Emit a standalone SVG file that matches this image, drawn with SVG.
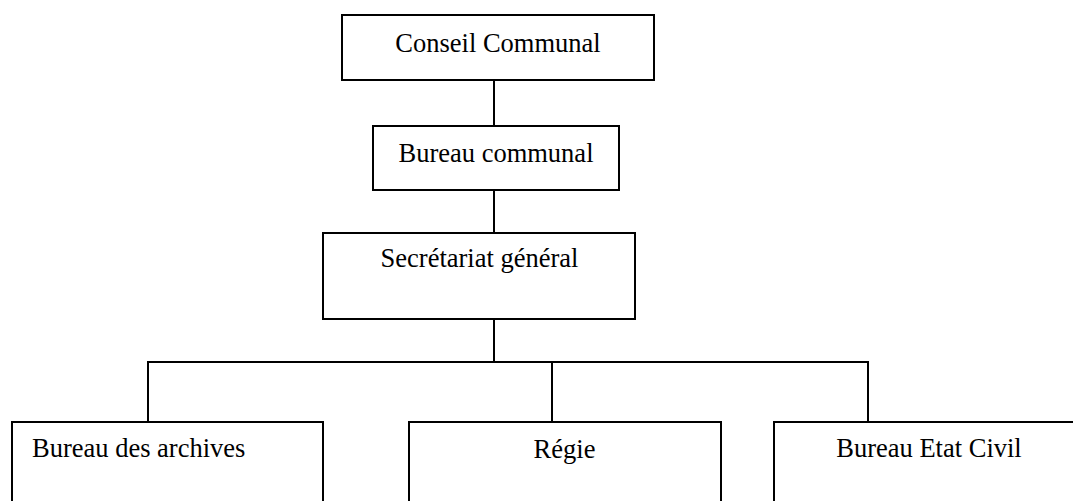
<svg xmlns="http://www.w3.org/2000/svg" width="1073" height="501" viewBox="0 0 1073 501">
<style>
.box{fill:#fff;stroke:#000;stroke-width:2}
.con{fill:none;stroke:#000;stroke-width:2}
.t{font-family:"Liberation Serif","Times New Roman",serif;font-size:26.5px;fill:#000}
.c{text-anchor:middle}
</style>
<rect width="1073" height="501" fill="#fff"/>
<g id="connectors">
<line class="con" x1="494" y1="80" x2="494" y2="126"/>
<line class="con" x1="494" y1="190" x2="494" y2="233"/>
<line class="con" x1="494" y1="319" x2="494" y2="362"/>
<polyline class="con" points="148,422 148,362 868,362 868,422"/>
<line class="con" x1="552" y1="362" x2="552" y2="422"/>
</g>
<g id="conseil">
<rect class="box" x="342" y="15" width="312" height="65"/>
<text class="t c" x="498" y="52">Conseil Communal</text>
</g>
<g id="bureau-communal">
<rect class="box" x="373" y="126" width="246" height="64"/>
<text class="t c" x="496" y="162">Bureau communal</text>
</g>
<g id="secretariat">
<rect class="box" x="323" y="233" width="312" height="86"/>
<text class="t c" x="479.5" y="267">Secrétariat général</text>
</g>
<g id="archives">
<rect class="box" x="12" y="422" width="311" height="100"/>
<text class="t" x="32" y="457">Bureau des archives</text>
</g>
<g id="regie">
<rect class="box" x="409" y="422" width="312" height="100"/>
<text class="t c" x="564.5" y="458">Régie</text>
</g>
<g id="etat-civil">
<rect class="box" x="774" y="422" width="320" height="100"/>
<text class="t c" x="929" y="457">Bureau Etat Civil</text>
</g>
</svg>
